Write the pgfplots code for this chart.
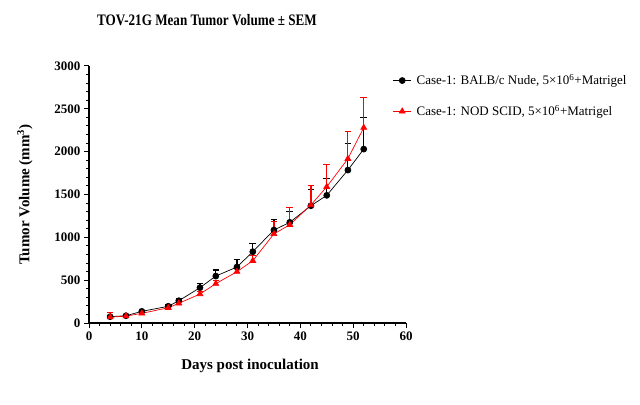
\documentclass[border=0pt]{standalone}
\usepackage{pgfplots}
\pgfplotsset{compat=1.18}
\usepackage{fontspec}
\setmainfont{Liberation Serif}
\newfontfamily\condensed[FakeStretch=0.82]{Liberation Serif}
\definecolor{myred}{RGB}{255,0,0}
\begin{document}
\begin{tikzpicture}[x=1bp,y=1bp]
\path[use as bounding box] (0,0) rectangle (640,404);
\begin{axis}[
  at={(89bp,81bp)}, anchor=south west,
  scale only axis, width=317bp, height=257bp,
  xmin=0, xmax=60, ymin=0, ymax=3000,
  axis x line*=bottom, axis y line*=left,
  axis line style={-, line width=1.2bp},
  xtick={0,10,...,60}, ytick={0,500,...,3000},
  minor x tick num=4, minor y tick num=4,
  tick align=outside,
  major tick length=5bp, minor tick length=3bp,
  every tick/.style={black, line width=1bp},
  /pgf/number format/assume math mode=true,
  /pgf/number format/1000 sep={},
  tick label style={font=\fontsize{13bp}{15bp}\selectfont\bfseries},
  xlabel={Days post inoculation},
  ylabel={Tumor Volume (mm\textsuperscript{3})},
  label style={font=\fontsize{15bp}{17bp}\selectfont\bfseries},
  xlabel style={at={(axis description cs:0.508,-0.167)}, anchor=center},
  ylabel style={at={(axis description cs:-0.202,0.5)}, anchor=center, rotate=0},
  legend style={at={(axis description cs:0.958,0.975)}, anchor=north west,
    draw=none, fill=none, font=\fontsize{13bp}{15bp}\selectfont,
    row sep=15bp, inner sep=0pt, nodes={inner xsep=5bp}},
  legend cell align=left,
  legend image code/.code={\draw[mark repeat=2,mark phase=2,#1] plot coordinates {(0bp,0bp) (9bp,0bp) (18bp,0bp)};},
  clip=false,
]
\addplot[black, line width=0.7bp, mark=*, mark size=3bp,
  error bars/.cd, y dir=plus, y explicit,
  error bar style={line width=1.2bp, black}, error mark options={rotate=90, mark size=3.3bp, line width=1.2bp}]
  table[x=d, y=v, y error=e] {
d v e
4 74 8
7 85 10
10 136 12
15 195 15
17 260 28
21 412 47
24 548 70
28 653 86
31 832 98
35 1085 125
38 1175 125
42 1369 190
45 1490 194
49 1785 312
52 2030 370
};
\addlegendentry{Case-1: BALB/c Nude, 5\texttimes10\textsuperscript{6}+Matrigel}
\addplot[myred, line width=0.7bp, mark=triangle*, mark size=3.4bp,
  error bars/.cd, y dir=plus, y explicit,
  error bar style={line width=1.2bp, myred}, error mark options={rotate=90, mark size=3.3bp, line width=1.2bp}]
  table[x=d, y=v, y error=e] {
d v e
4 68 50
7 80 12
10 113 15
15 178 15
17 230 20
21 338 30
24 459 40
28 599 50
31 727 60
35 1040 142
38 1147 198
42 1377 225
45 1590 262
49 1917 315
52 2280 354
};
\addlegendentry{Case-1: NOD SCID, 5\texttimes10\textsuperscript{6}+Matrigel}
\node[font=\fontsize{16bp}{18bp}\condensed\bfseries] at (axis description cs:0.372,1.179) {TOV-21G Mean Tumor Volume \textpm{} SEM};
\end{axis}
\end{tikzpicture}
\end{document}
